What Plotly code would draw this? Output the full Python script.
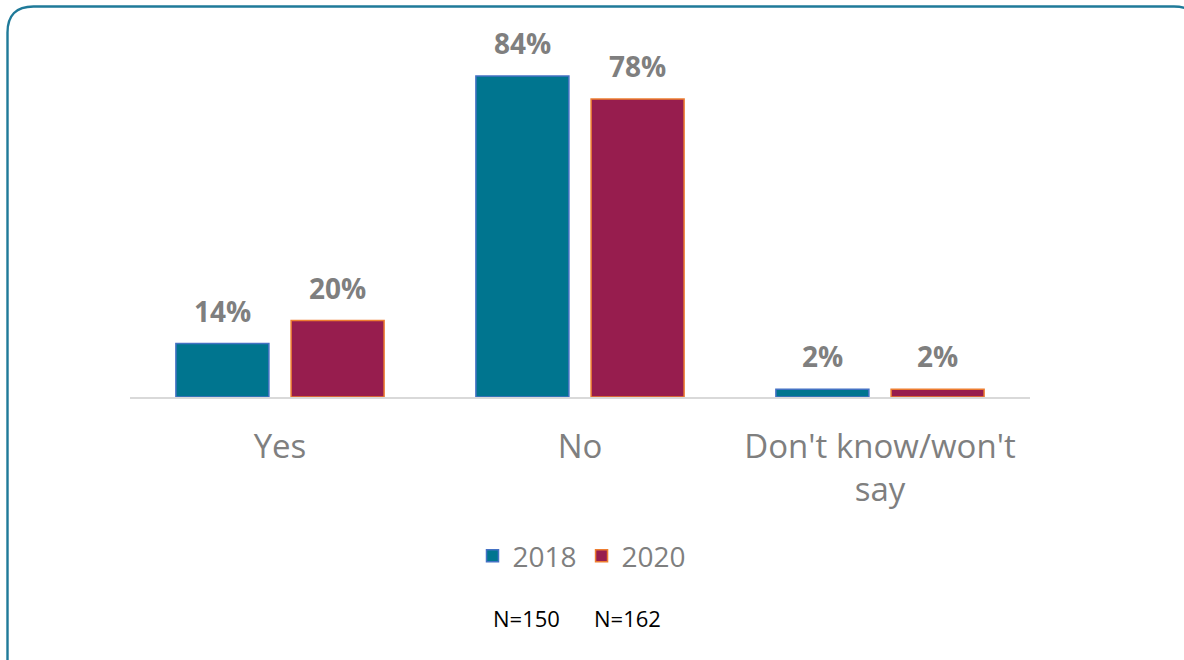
import plotly.graph_objects as go

categories = ["Yes", "No", "Don't know/won't<br>say"]
years = ["2018", "2020"]
values_2018 = [14, 84, 2]
values_2020 = [20, 78, 2]
sample_sizes = ["N=150", "N=162"]

fill_colors = ["#00758F", "#971D4E"]
line_colors = ["#4472C4", "#ED7D31"]
bar_width = 0.31
offsets = [-0.347, 0.037]

FONT = "Open Sans"
GRAY = "#7F7F7F"

# plot area geometry in page pixels
L, R, T, B = 130, 1030, 15, 397
PW, PH = R - L, B - T


def px(x):
    return (x - L) / PW


def py(y):
    return (B - y) / PH


fig = go.Figure()
series = [values_2018, values_2020]
for i, (yr, vals) in enumerate(zip(years, series)):
    fig.add_trace(go.Bar(
        name=yr, x=categories, y=vals,
        width=bar_width, offset=offsets[i],
        marker=dict(color=fill_colors[i], line=dict(color=line_colors[i], width=1.5)),
    ))

annotations = []
for i, vals in enumerate(series):
    for j, v in enumerate(vals):
        annotations.append(dict(
            x=j + offsets[i] + bar_width / 2, y=v, xref="x", yref="y",
            text=f"<b>{v}%</b>", showarrow=False, yanchor="bottom",
            yshift=12, font=dict(family=FONT, size=28, color=GRAY),
        ))

n_x = [526, 627]
for s, xx in zip(sample_sizes, n_x):
    annotations.append(dict(
        x=px(xx), y=py(618), xref="paper", yref="paper", text=s,
        showarrow=False, xanchor="center", yanchor="middle",
        font=dict(family=FONT, size=22, color="#000000"),
    ))

# rounded border
x0, x1, y0, y1, r = 7.5, 1200, 6.5, 700, 26
path = (
    f"M {px(x0)},{py(y0 + r)} "
    f"Q {px(x0)},{py(y0)} {px(x0 + r)},{py(y0)} "
    f"L {px(x1 - r)},{py(y0)} "
    f"Q {px(x1)},{py(y0)} {px(x1)},{py(y0 + r)} "
    f"L {px(x1)},{py(y1 - r)} "
    f"Q {px(x1)},{py(y1)} {px(x1 - r)},{py(y1)} "
    f"L {px(x0 + r)},{py(y1)} "
    f"Q {px(x0)},{py(y1)} {px(x0)},{py(y1 - r)} Z"
)

fig.update_layout(
    width=1184, height=660,
    margin=dict(l=L, r=1184 - R, t=T, b=660 - B),
    paper_bgcolor="white", plot_bgcolor="white",
    barmode="group",
    showlegend=True,
    legend=dict(orientation="h", x=px(582), y=py(556), xanchor="center", yanchor="middle",
                font=dict(family=FONT, size=28, color=GRAY), itemwidth=30,
                bgcolor="rgba(0,0,0,0)"),
    annotations=annotations,
    shapes=[dict(type="path", xref="paper", yref="paper", path=path,
                 line=dict(color="#1F7A99", width=2.4), layer="above")],
    xaxis=dict(showline=True, linecolor="#D9D9D9", linewidth=1.5, showgrid=False,
               ticks="outside", ticklen=20, tickcolor="rgba(0,0,0,0)",
               tickfont=dict(family=FONT, size=33, color=GRAY), range=[-0.5, 2.5]),
    yaxis=dict(visible=False, range=[0, 100], showgrid=False, zeroline=False),
)

fig.write_html("out.html", config={"displayModeBar": False},
               post_script="document.body.style.margin='0px';document.body.style.overflow='hidden';")
